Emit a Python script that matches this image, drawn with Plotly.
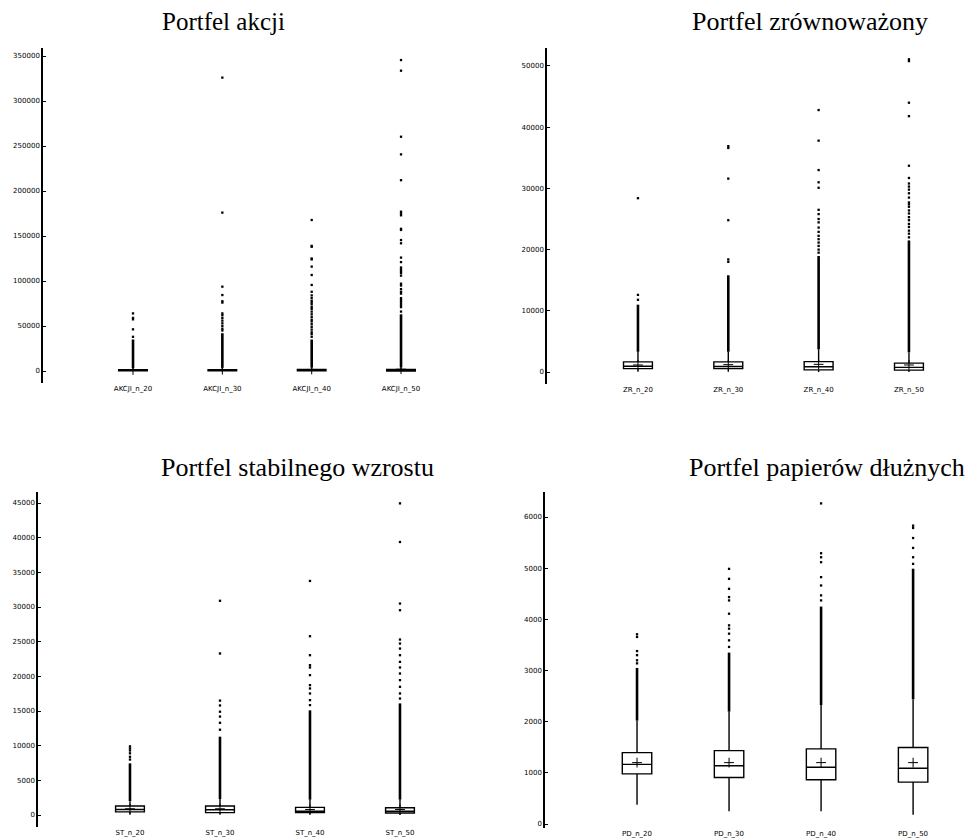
import plotly.graph_objects as go

# ---------------- data ----------------
akcji_cats = ["AKCJI_n_20", "AKCJI_n_30", "AKCJI_n_40", "AKCJI_n_50"]
akcji_q1 = [200, 150, 100, 80]
akcji_median = [600, 550, 500, 450]
akcji_q3 = [1400, 1500, 1600, 1700]
akcji_lower = [0, 0, 0, 0]
akcji_upper = [3200, 3500, 3800, 4100]
akcji_mean = [1100, 1500, 1700, 2000]
akcji_dense_top = [35000, 42000, 35000, 63000]
akcji_out = [
    [38000, 46300, 57400, 59000, 64000],
    [45000, 47000, 50000, 53000, 56000, 59000, 62000, 64000, 76000, 77500, 84400, 93700, 176000, 326000],
    [38000, 41000, 43000, 46000, 49000, 52000, 55000, 57000, 60000, 63000, 66000, 69000, 71000, 74000,
     76000, 78000, 81000, 84000, 88000, 95600, 106700, 116000, 124000, 125000, 138000, 139000, 167800],
    [66000, 71000, 73000, 75000, 77000, 79000, 81000, 86000, 88000, 91000, 95000, 97000, 106000, 109000,
     111000, 113000, 115000, 121000, 126000, 141900, 145500, 156700, 158000, 173000, 175000, 177000,
     212000, 240700, 260300, 333700, 345500],
]

zr_cats = ["ZR_n_20", "ZR_n_30", "ZR_n_40", "ZR_n_50"]
zr_q1 = [550, 550, 350, 300]
zr_median = [950, 900, 850, 750]
zr_q3 = [1650, 1650, 1700, 1450]
zr_lower = [50, 30, 20, 10]
zr_upper = [3300, 3300, 3700, 3200]
zr_mean = [1150, 1200, 1250, 1150]
zr_dense_top = [11000, 15800, 18950, 21500]
zr_out = [
    [11800, 12600, 28400],
    [18000, 18400, 24800, 31600, 36600, 36900],
    [19500, 20000, 20600, 21150, 21700, 22250, 22900, 23600, 24450, 25000, 25800, 26500,
     30100, 31000, 33000, 37800, 42800],
    [22000, 22600, 23100, 23700, 24200, 24800, 25300, 25900, 26400, 27000, 27400, 27700,
     28500, 29200, 29800, 30300, 30800, 31700, 33700, 41800, 44000, 50800, 51100],
]

st_cats = ["ST_n_20", "ST_n_30", "ST_n_40", "ST_n_50"]
st_q1 = [450, 350, 350, 300]
st_median = [800, 750, 550, 550]
st_q3 = [1300, 1300, 1100, 1050]
st_lower = [50, 30, 20, 10]
st_upper = [2000, 2300, 2200, 2200]
st_mean = [900, 900, 800, 800]
st_dense_top = [7450, 11300, 15100, 16100]
st_out = [
    [8000, 8400, 8900, 9300, 9600, 9900],
    [12300, 13300, 14200, 14900, 15800, 16500, 23300, 30900],
    [15850, 16570, 17530, 18250, 18730, 20170, 21280, 21610, 23050, 25790, 33760],
    [16800, 17530, 18490, 19450, 20410, 21280, 22090, 23050, 24010, 24730, 25310,
     29540, 30500, 39380, 44950],
]

pd_cats = ["PD_n_20", "PD_n_30", "PD_n_40", "PD_n_50"]
pd_q1 = [980, 909, 864, 818]
pd_median = [1165, 1140, 1110, 1090]
pd_q3 = [1395, 1435, 1468, 1494]
pd_lower = [377, 247, 247, 182]
pd_upper = [2020, 2195, 2325, 2435]
pd_mean = [1200, 1200, 1200, 1200]
pd_dense_top = [3050, 3350, 4250, 4990]
pd_out = [
    [3140, 3200, 3300, 3380, 3656, 3708],
    [3461, 3590, 3720, 3818, 3883, 4110, 4370, 4435, 4597, 4792, 4987],
    [4370, 4468, 4662, 4825, 5117, 5214, 5292, 6266],
    [5084, 5214, 5396, 5590, 5786, 5831],
]

titles = ["Portfel akcji", "Portfel zrównoważony",
          "Portfel stabilnego wzrostu", "Portfel papierów dłużnych"]

panels = [
    (akcji_cats, akcji_q1, akcji_median, akcji_q3, akcji_lower, akcji_upper, akcji_mean, akcji_dense_top, akcji_out),
    (zr_cats, zr_q1, zr_median, zr_q3, zr_lower, zr_upper, zr_mean, zr_dense_top, zr_out),
    (st_cats, st_q1, st_median, st_q3, st_lower, st_upper, st_mean, st_dense_top, st_out),
    (pd_cats, pd_q1, pd_median, pd_q3, pd_lower, pd_upper, pd_mean, pd_dense_top, pd_out),
]

# ---------------- layout geometry ----------------
W, H = 972, 839
x_dom_px = [(43, 480), (547, 972), (38, 470), (545, 972)]
y_dom_px = [(48, 383), (48, 384), (492, 827), (492, 828)]
x_ranges = [[-1.0075, 3.884], [-1.007, 3.698], [-1.022, 3.778], [-1.0, 3.64]]
y_ranges = [[-13333, 358900], [-1960, 52940], [-1730, 46590], [-78, 6489]]
y_dticks = [50000, 10000, 5000, 1000]
# (x, y, anchor, font size)
title_pos = [(223, 22, "center", 25), (810, 22, "center", 26),
             (297, 467, "center", 26), (967, 467, "right", 26)]

fig = go.Figure()
layout = dict(
    width=W, height=H,
    margin=dict(l=0, r=0, t=0, b=0, autoexpand=False),
    paper_bgcolor="white", plot_bgcolor="white",
    showlegend=False,
    annotations=[],
)

for i, (cats, q1, med, q3, lo, up, mean, dtop, outs) in enumerate(panels):
    xa = "x" if i == 0 else f"x{i+1}"
    ya = "y" if i == 0 else f"y{i+1}"
    # dense outlier columns
    for c, u, t in zip(cats, up, dtop):
        fig.add_trace(go.Scatter(x=[c, c], y=[u, t], mode="lines",
                                 line=dict(color="black", width=2.6),
                                 xaxis=xa, yaxis=ya, hoverinfo="skip"))
    # individual outliers
    ox, oy = [], []
    for c, vals in zip(cats, outs):
        ox += [c] * len(vals)
        oy += vals
    fig.add_trace(go.Scatter(x=ox, y=oy, mode="markers",
                             marker=dict(symbol="square", size=2.3, color="black",
                                         line=dict(width=0)),
                             xaxis=xa, yaxis=ya))
    # boxes
    fig.add_trace(go.Box(x=cats, q1=q1, median=med, q3=q3,
                         lowerfence=lo, upperfence=up,
                         fillcolor="white", line=dict(color="black", width=1.4),
                         whiskerwidth=0, width=0.32, boxpoints=False,
                         xaxis=xa, yaxis=ya))
    # means
    fig.add_trace(go.Scatter(x=cats, y=mean, mode="markers",
                             marker=dict(symbol="cross-thin", size=7,
                                         line=dict(color="black", width=1)),
                             xaxis=xa, yaxis=ya))

    xk = "xaxis" if i == 0 else f"xaxis{i+1}"
    yk = "yaxis" if i == 0 else f"yaxis{i+1}"
    x0, x1 = x_dom_px[i]
    y0, y1 = y_dom_px[i]
    layout[xk] = dict(domain=[x0 / W, x1 / W], anchor=ya, type="category",
                      range=x_ranges[i], showline=False, showgrid=False,
                      zeroline=False, ticks="", automargin=False,
                      tickfont=dict(family="DejaVu Sans", size=7, color="black"))
    layout[yk] = dict(domain=[1 - y1 / H, 1 - y0 / H], anchor=xa,
                      range=y_ranges[i], tick0=0, dtick=y_dticks[i],
                      tickformat="d", showline=True, linecolor="black",
                      linewidth=1.5, ticks="inside", ticklen=3,
                      tickcolor="black", tickwidth=1, showgrid=False,
                      zeroline=False, automargin=False,
                      tickfont=dict(family="DejaVu Sans", size=7, color="black"))
    tx, ty, anc, fs = title_pos[i]
    layout["annotations"].append(dict(
        text=titles[i], x=tx / W, y=1 - ty / H, xref="paper", yref="paper",
        xanchor=anc, yanchor="middle", showarrow=False,
        font=dict(family="Liberation Serif", size=fs, color="black")))

fig.update_layout(**layout)
fig.write_html(
    "out.html",
    config={"displayModeBar": False},
    post_script="document.body.style.margin='0px';document.body.style.overflow='hidden';",
)
